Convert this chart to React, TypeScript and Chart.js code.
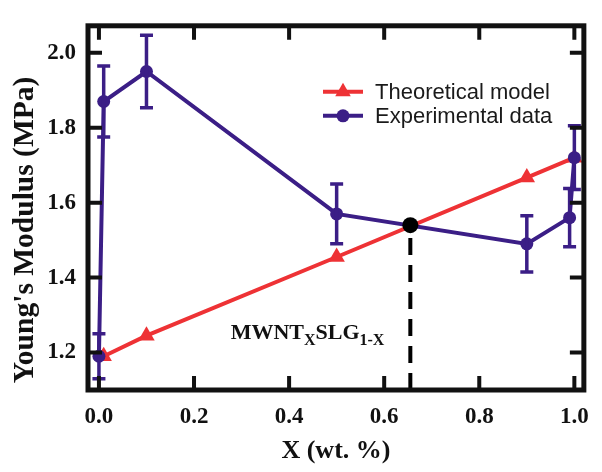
import React, { useEffect, useRef } from 'react';
import { Chart, registerables } from 'chart.js';
Chart.register(...registerables);

// ---- data ----
const theoryX = [0.01, 0.1, 0.5, 0.9, 1.0];
const theoryY = [1.19, 1.245, 1.455, 1.667, 1.72];
const expX = [0, 0.01, 0.1, 0.5, 0.9, 0.99, 1.0];
const expY = [1.19, 1.87, 1.95, 1.57, 1.49, 1.56, 1.72];
const expErr = [0.06, 0.095, 0.097, 0.08, 0.075, 0.078, 0.085];
const crossX = [0.655];
const crossY = [1.54];
const xTicks = [0, 0.2, 0.4, 0.6, 0.8, 1.0];
const yTicks = [1.2, 1.4, 1.6, 1.8, 2.0];
const seriesLabels = ['Theoretical model', 'Experimental data'];
const xTitle = 'X (wt. %)';
const yTitle = "Young's Modulus (MPa)";
const annMain1 = 'MWNT';
const annSub1 = 'X';
const annMain2 = 'SLG';
const annSub2 = '1-X';
const annX = 0.277;
const annY = 1.236;

const X_MIN = -0.023;
const X_MAX = 1.02;
const Y_MIN = 1.1;
const Y_MAX = 2.072;

const RED = '#EE3235';
const PURPLE = '#3B1E86';
const INK = '#111111';
const SERIF = '"Liberation Serif", "Times New Roman", serif';
const SANS = '"Liberation Sans", Arial, sans-serif';

const decorPlugin = {
  id: 'decor',
  afterDatasetsDraw(chart: any) {
    const { ctx, scales } = chart;
    const xs = scales.x;
    const ys = scales.y;
    ctx.save();
    ctx.strokeStyle = PURPLE;
    ctx.lineWidth = 3.5;
    for (let i = 0; i < expX.length; i++) {
      const px = xs.getPixelForValue(expX[i]);
      const pt = ys.getPixelForValue(expY[i] + expErr[i]);
      const pb = ys.getPixelForValue(expY[i] - expErr[i]);
      ctx.beginPath();
      ctx.moveTo(px, pt);
      ctx.lineTo(px, pb);
      ctx.moveTo(px - 6.5, pt);
      ctx.lineTo(px + 6.5, pt);
      ctx.moveTo(px - 6.5, pb);
      ctx.lineTo(px + 6.5, pb);
      ctx.stroke();
    }
    ctx.restore();
  },
  afterDraw(chart: any) {
    const { ctx, chartArea, scales } = chart;
    const { left, top, right, bottom } = chartArea;
    const xs = scales.x;
    const ys = scales.y;
    ctx.save();
    // frame
    ctx.strokeStyle = INK;
    ctx.lineWidth = 5;
    ctx.strokeRect(left, top, right - left, bottom - top);
    // inward ticks on all four sides
    ctx.lineWidth = 4;
    const tl = 14;
    ctx.beginPath();
    xTicks.forEach((v) => {
      const px = xs.getPixelForValue(v);
      ctx.moveTo(px, bottom);
      ctx.lineTo(px, bottom - tl);
      ctx.moveTo(px, top);
      ctx.lineTo(px, top + tl);
    });
    yTicks.forEach((v) => {
      const py = ys.getPixelForValue(v);
      ctx.moveTo(left, py);
      ctx.lineTo(left + tl, py);
      ctx.moveTo(right, py);
      ctx.lineTo(right - tl, py);
    });
    ctx.stroke();

    // legend inside the plot
    const lx1 = left + 235;
    const lx2 = left + 275;
    const lyRows = [top + 66, top + 90];
    const colors = [RED, PURPLE];
    lyRows.forEach((ly, i) => {
      ctx.strokeStyle = colors[i];
      ctx.fillStyle = colors[i];
      ctx.lineWidth = 4;
      ctx.beginPath();
      ctx.moveTo(lx1, ly);
      ctx.lineTo(lx2, ly);
      ctx.stroke();
      const cx = (lx1 + lx2) / 2;
      ctx.beginPath();
      if (i === 0) {
        const r = 9;
        ctx.moveTo(cx, ly - r);
        ctx.lineTo(cx + r * 0.866, ly + r * 0.5);
        ctx.lineTo(cx - r * 0.866, ly + r * 0.5);
        ctx.closePath();
      } else {
        ctx.arc(cx, ly, 6.5, 0, Math.PI * 2);
      }
      ctx.fill();
      ctx.fillStyle = '#1a1a1a';
      ctx.font = `22px ${SANS}`;
      ctx.textAlign = 'left';
      ctx.textBaseline = 'middle';
      ctx.fillText(seriesLabels[i], lx2 + 12, ly + 1);
    });

    // y-axis title
    ctx.save();
    ctx.fillStyle = INK;
    ctx.font = `bold 29.5px ${SERIF}`;
    ctx.textAlign = 'center';
    ctx.textBaseline = 'alphabetic';
    ctx.translate(33, (top + bottom) / 2 + 22);
    ctx.rotate(-Math.PI / 2);
    ctx.fillText(yTitle, 0, 0);
    ctx.restore();

    // composition annotation
    let ax = xs.getPixelForValue(annX);
    const ay = ys.getPixelForValue(annY);
    ctx.fillStyle = INK;
    ctx.textAlign = 'left';
    ctx.textBaseline = 'alphabetic';
    const mainFont = `bold 22px ${SERIF}`;
    const subFont = `bold 16px ${SERIF}`;
    const parts: [string, boolean][] = [
      [annMain1, false],
      [annSub1, true],
      [annMain2, false],
      [annSub2, true],
    ];
    parts.forEach(([t, sub]) => {
      ctx.font = sub ? subFont : mainFont;
      ctx.fillText(t, ax, ay + (sub ? 6 : 0));
      ax += ctx.measureText(t).width;
    });
    ctx.restore();
  },
};

export default function App() {
  const ref = useRef<HTMLCanvasElement | null>(null);
  useEffect(() => {
    if (!ref.current) return;
    const tickFont = { family: SERIF, weight: 'bold' as const, size: 23 };
    const chart = new Chart(ref.current, {
      type: 'scatter',
      data: {
        datasets: [
          {
            label: 'cross-dash',
            data: [
              { x: crossX[0], y: Y_MIN },
              { x: crossX[0], y: crossY[0] },
            ],
            showLine: true,
            borderColor: '#000',
            borderWidth: 4,
            borderDash: [17, 10],
            pointRadius: 0,
            order: 1,
          },
          {
            label: 'cross-point',
            data: crossX.map((x, i) => ({ x, y: crossY[i] })),
            showLine: false,
            pointRadius: 8,
            pointBackgroundColor: '#000',
            pointBorderColor: '#000',
            pointBorderWidth: 0,
            order: 0,
          },
          {
            label: seriesLabels[1],
            data: expX.map((x, i) => ({ x, y: expY[i] })),
            showLine: true,
            borderColor: PURPLE,
            backgroundColor: PURPLE,
            borderWidth: 4,
            pointStyle: 'circle',
            pointRadius: 6.5,
            pointBackgroundColor: PURPLE,
            pointBorderColor: PURPLE,
            pointBorderWidth: 0,
            order: 2,
          },
          {
            label: seriesLabels[0],
            data: theoryX.map((x, i) => ({ x, y: theoryY[i] })),
            showLine: true,
            borderColor: RED,
            backgroundColor: RED,
            borderWidth: 4,
            pointStyle: 'triangle',
            pointRadius: 9.5,
            pointBackgroundColor: RED,
            pointBorderColor: RED,
            pointBorderWidth: 0,
            order: 3,
          },
        ],
      },
      options: {
        responsive: false,
        animation: false,
        events: [],
        layout: { padding: { top: 13, right: 14, bottom: 0, left: 0 } },
        plugins: {
          legend: { display: false },
          tooltip: { enabled: false },
        },
        scales: {
          x: {
            type: 'linear',
            min: X_MIN,
            max: X_MAX,
            afterBuildTicks: (s: any) => {
              s.ticks = xTicks.map((v) => ({ value: v }));
            },
            afterFit: (s: any) => {
              s.height = 82;
            },
            grid: { display: false, drawTicks: false },
            border: { display: false },
            ticks: {
              font: tickFont,
              color: INK,
              padding: 13,
              maxRotation: 0,
              callback: (v: any) => Number(v).toFixed(1),
            },
            title: {
              display: true,
              text: xTitle,
              color: INK,
              font: { family: SERIF, weight: 'bold', size: 26 },
              padding: { top: 0, bottom: 5 },
            },
          },
          y: {
            type: 'linear',
            min: Y_MIN,
            max: Y_MAX,
            afterBuildTicks: (s: any) => {
              s.ticks = yTicks.map((v) => ({ value: v }));
            },
            afterFit: (s: any) => {
              s.width = 88;
            },
            grid: { display: false, drawTicks: false },
            border: { display: false },
            ticks: {
              font: tickFont,
              color: INK,
              padding: 12,
              callback: (v: any) => Number(v).toFixed(1),
            },
          },
        },
      },
      plugins: [decorPlugin],
    });
    return () => chart.destroy();
  }, []);
  return (
    <div style={{ position: 'fixed', left: 0, top: 0, width: 602, height: 472, background: '#fff' }}>
      <canvas ref={ref} width={602} height={472} style={{ display: 'block' }} />
    </div>
  );
}
